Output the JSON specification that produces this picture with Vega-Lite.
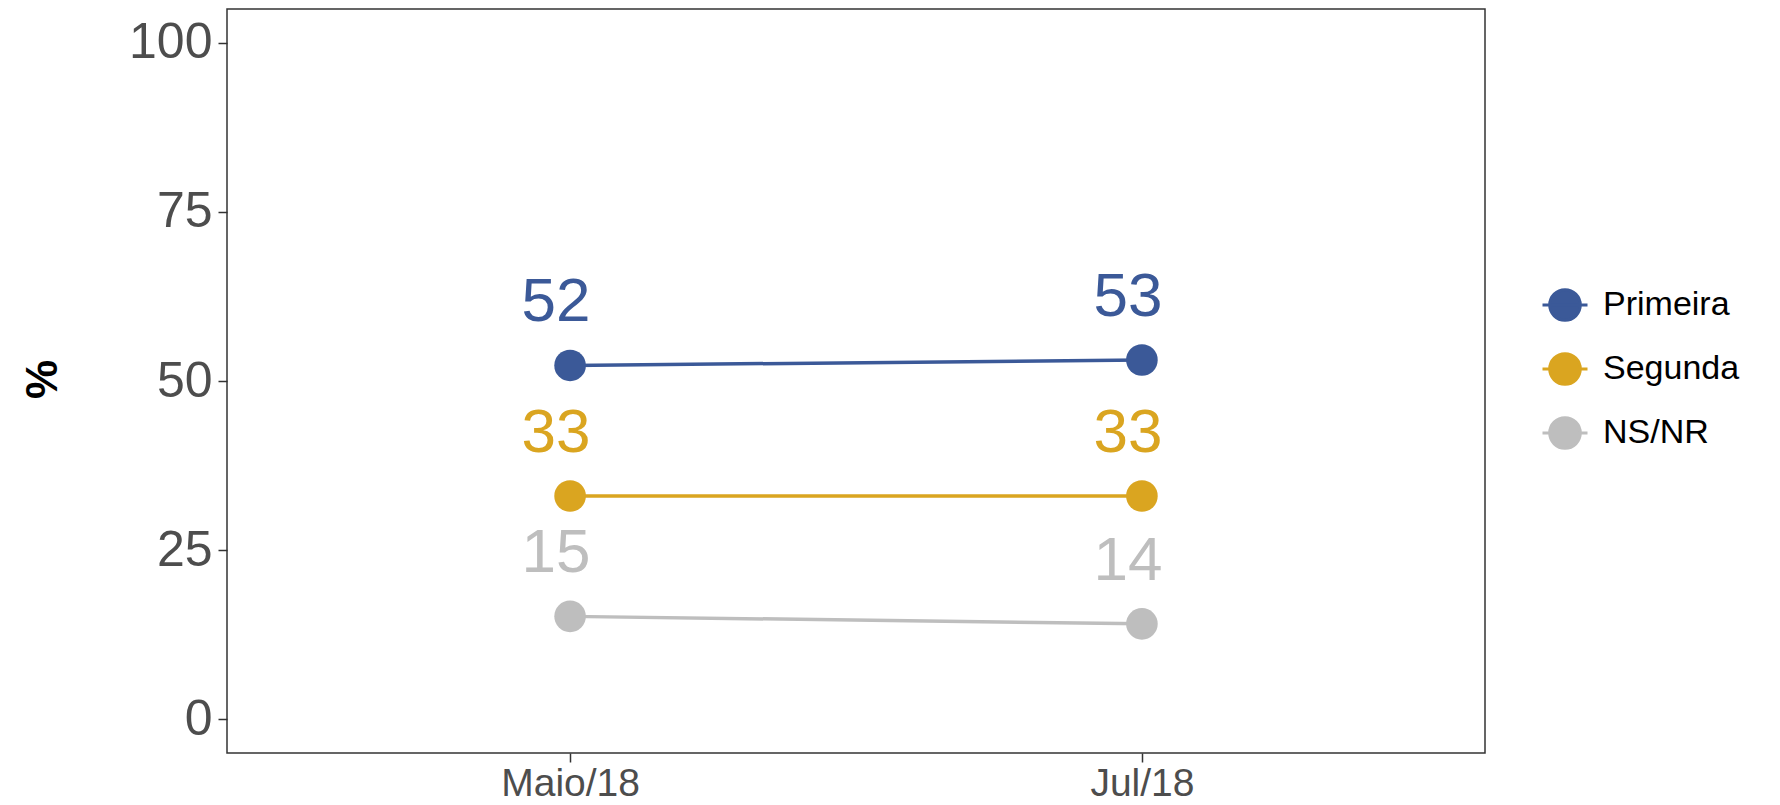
{
  "$schema": "https://vega.github.io/schema/vega-lite/v6.json",
  "autosize": {"type": "none"},
  "width": 1258,
  "height": 744,
  "padding": {"left": 227, "top": 9, "right": 295, "bottom": 52},
  "background": "white",
  "config": {
    "font": "Liberation Sans",
    "view": {"stroke": "#333333", "strokeWidth": 1.5},
    "axis": {"grid": false, "domain": false, "tickColor": "#333333", "tickWidth": 1.5, "tickSize": 9}
  },
  "data": {
    "values": [
      {"mes": "Maio/18", "serie": "Primeira", "valor": 52.3, "rotulo": "52"},
      {"mes": "Jul/18", "serie": "Primeira", "valor": 53.1, "rotulo": "53"},
      {"mes": "Maio/18", "serie": "Segunda", "valor": 33, "rotulo": "33"},
      {"mes": "Jul/18", "serie": "Segunda", "valor": 33, "rotulo": "33"},
      {"mes": "Maio/18", "serie": "NS/NR", "valor": 15.2, "rotulo": "15"},
      {"mes": "Jul/18", "serie": "NS/NR", "valor": 14.1, "rotulo": "14"}
    ]
  },
  "encoding": {
    "x": {
      "field": "mes", "type": "nominal", "sort": ["Maio/18", "Jul/18"],
      "scale": {"type": "point", "padding": 0.6},
      "axis": {"title": null, "labelAngle": 0, "labelFontSize": 39, "labelColor": "#4D4D4D", "labelPadding": 2}
    },
    "y": {
      "field": "valor", "type": "quantitative",
      "scale": {"domain": [-5, 105], "nice": false, "zero": false},
      "axis": {"title": "%", "values": [0, 25, 50, 75, 100], "labelFontSize": 50, "labelColor": "#4D4D4D", "labelPadding": 6,
        "titleFontSize": 44, "titleFontWeight": "bold", "titleColor": "#000000", "titleAngle": -90,
        "titleX": -184, "titleY": 370, "titleAlign": "center", "titleBaseline": "middle"}
    },
    "color": {
      "field": "serie", "type": "nominal",
      "scale": {"domain": ["Primeira", "Segunda", "NS/NR"], "range": ["#3B5998", "#DAA520", "#BEBEBE"]},
      "legend": {
        "title": null, "orient": "none", "legendX": 1314, "legendY": 272, "padding": 0,
        "symbolType": "M -1 0 L 1 0 M -0.68 0 A 0.68 0.68 0 1 1 0.68 0 A 0.68 0.68 0 1 1 -0.68 0 Z",
        "symbolSize": 2025, "symbolStrokeWidth": 3, "symbolOpacity": 1,
        "labelFontSize": 34, "labelColor": "#000000", "labelOffset": 14, "rowPadding": 18,
        "encode": {"symbols": {"update": {"stroke": {"scale": "color", "field": "value"}, "fill": {"scale": "color", "field": "value"}}}}
      }
    }
  },
  "layer": [
    {"mark": {"type": "line", "strokeWidth": 3.5}},
    {"mark": {"type": "point", "filled": true, "size": 1000, "opacity": 1}},
    {"mark": {"type": "text", "fontSize": 62, "baseline": "alphabetic", "align": "center", "dy": -44, "dx": -14},
     "encoding": {"text": {"field": "rotulo"}}}
  ]
}
